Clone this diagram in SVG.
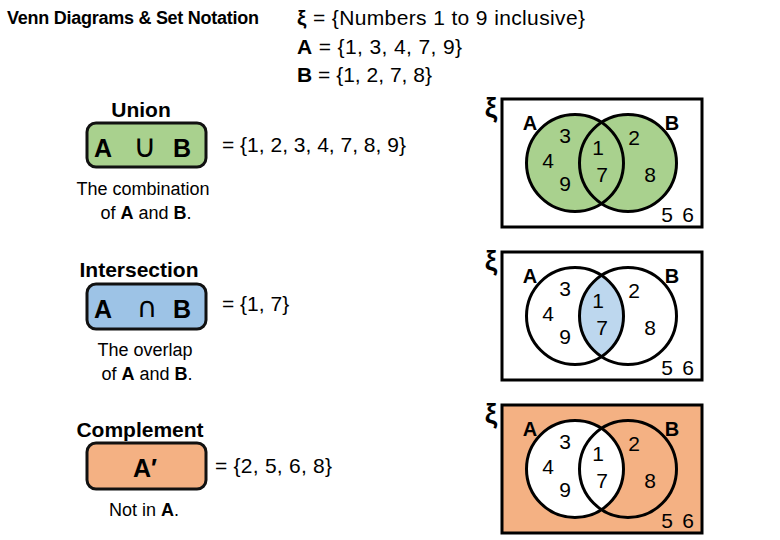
<svg xmlns="http://www.w3.org/2000/svg" width="780" height="540" viewBox="0 0 780 540">
<defs>
<style>
text { font-family: "Liberation Sans", Arial, sans-serif; fill: #000; }
.b { font-weight: bold; }
.title { font-size: 18px; font-weight: bold; }
.hdr { font-size: 21px; }
.sec { font-size: 21px; font-weight: bold; text-anchor: middle; }
.box { stroke: #111; stroke-width: 3; }
.big { font-size: 25px; font-weight: bold; text-anchor: middle; }
.sym { font-family: "DejaVu Sans", sans-serif; text-anchor: middle; }
.eq { font-size: 21px; }
.desc { font-size: 18px; text-anchor: middle; }
.frame { stroke: #000; stroke-width: 3; }
.ring { fill: none; stroke: #000; stroke-width: 3; }
.num { font-size: 21px; text-anchor: middle; }
.lab { font-size: 20px; font-weight: bold; text-anchor: middle; }
.xi { font-size: 28px; font-weight: bold; text-anchor: middle; }
.green { fill: #a9d18e; }
.blue { fill: #9dc3e6; }
.lblue { fill: #bdd7ee; }
.orange { fill: #f4b183; }
</style>
<clipPath id="clipA"><circle cx="575" cy="163" r="48.5"/></clipPath>
</defs>
<rect width="780" height="540" fill="#fff"/>

<g id="header">
<text class="title" x="7" y="24" textLength="252">Venn Diagrams &amp; Set Notation</text>
<text class="hdr" x="297" y="25" textLength="288"><tspan class="b">ξ</tspan> = {Numbers 1 to 9 inclusive}</text>
<text class="hdr" x="297" y="54" textLength="165"><tspan class="b">A</tspan> = {1, 3, 4, 7, 9}</text>
<text class="hdr" x="297" y="82" textLength="135"><tspan class="b">B</tspan> = {1, 2, 7, 8}</text>
</g>

<g id="union">
<text class="sec" x="141" y="117">Union</text>
<rect class="box green" x="87" y="123" width="119" height="44" rx="9"/>
<text class="big" x="103" y="157">A</text>
<text class="sym" x="145" y="157" font-size="32">∪</text>
<text class="big" x="182" y="157">B</text>
<text class="eq" x="222" y="152">= {1, 2, 3, 4, 7, 8, 9}</text>
<text class="desc" x="143" y="195">The combination</text>
<text class="desc" x="146" y="219">of <tspan class="b">A</tspan> and <tspan class="b">B</tspan>.</text>
</g>

<g id="intersection">
<text class="sec" x="139" y="277">Intersection</text>
<rect class="box blue" x="87" y="284" width="119" height="45" rx="9"/>
<text class="big" x="103" y="318">A</text>
<text class="sym" x="147" y="317" font-size="28">∩</text>
<text class="big" x="182" y="318">B</text>
<text class="eq" x="222" y="311">= {1, 7}</text>
<text class="desc" x="145" y="356">The overlap</text>
<text class="desc" x="147" y="380">of <tspan class="b">A</tspan> and <tspan class="b">B</tspan>.</text>
</g>

<g id="complement">
<text class="sec" x="140" y="437">Complement</text>
<rect class="box orange" x="87" y="443" width="119" height="46" rx="9"/>
<text class="big" x="145" y="477">A′</text>
<text class="eq" x="215" y="473" textLength="117">= {2, 5, 6, 8}</text>
<text class="desc" x="144" y="516">Not in <tspan class="b">A</tspan>.</text>
</g>

<g id="venn-union">
<text class="xi" x="491" y="117">ξ</text>
<rect class="frame" x="502" y="99" width="200" height="128" fill="#fff"/>
<circle class="green" cx="575" cy="163" r="48.5"/>
<circle class="green" cx="628" cy="163" r="48.5"/>
<circle class="ring" cx="575" cy="163" r="48.5"/>
<circle class="ring" cx="628" cy="163" r="48.5"/>
<text class="lab" x="530" y="130">A</text>
<text class="lab" x="672" y="130">B</text>
<text class="num" x="565" y="143">3</text>
<text class="num" x="548" y="168">4</text>
<text class="num" x="565" y="191">9</text>
<text class="num" x="598" y="155">1</text>
<text class="num" x="602" y="182">7</text>
<text class="num" x="634" y="145">2</text>
<text class="num" x="650" y="182">8</text>
<text class="num" x="667" y="222">5</text>
<text class="num" x="688" y="222">6</text>
</g>

<g id="venn-intersection" transform="translate(0,153)">
<text class="xi" x="491" y="117">ξ</text>
<rect class="frame" x="502" y="99" width="200" height="128" fill="#fff"/>
<circle class="lblue" cx="628" cy="163" r="48.5" clip-path="url(#clipA)"/>
<circle class="ring" cx="575" cy="163" r="48.5"/>
<circle class="ring" cx="628" cy="163" r="48.5"/>
<text class="lab" x="530" y="130">A</text>
<text class="lab" x="672" y="130">B</text>
<text class="num" x="565" y="143">3</text>
<text class="num" x="548" y="168">4</text>
<text class="num" x="565" y="191">9</text>
<text class="num" x="598" y="155">1</text>
<text class="num" x="602" y="182">7</text>
<text class="num" x="634" y="145">2</text>
<text class="num" x="650" y="182">8</text>
<text class="num" x="667" y="222">5</text>
<text class="num" x="688" y="222">6</text>
</g>

<g id="venn-complement" transform="translate(0,306)">
<text class="xi" x="491" y="117">ξ</text>
<rect class="frame orange" x="502" y="99" width="200" height="128"/>
<circle cx="575" cy="163" r="48.5" fill="#fff"/>
<circle class="ring" cx="575" cy="163" r="48.5"/>
<circle class="ring" cx="628" cy="163" r="48.5"/>
<text class="lab" x="530" y="130">A</text>
<text class="lab" x="672" y="130">B</text>
<text class="num" x="565" y="143">3</text>
<text class="num" x="548" y="168">4</text>
<text class="num" x="565" y="191">9</text>
<text class="num" x="598" y="155">1</text>
<text class="num" x="602" y="182">7</text>
<text class="num" x="634" y="145">2</text>
<text class="num" x="650" y="182">8</text>
<text class="num" x="667" y="222">5</text>
<text class="num" x="688" y="222">6</text>
</g>
</svg>
